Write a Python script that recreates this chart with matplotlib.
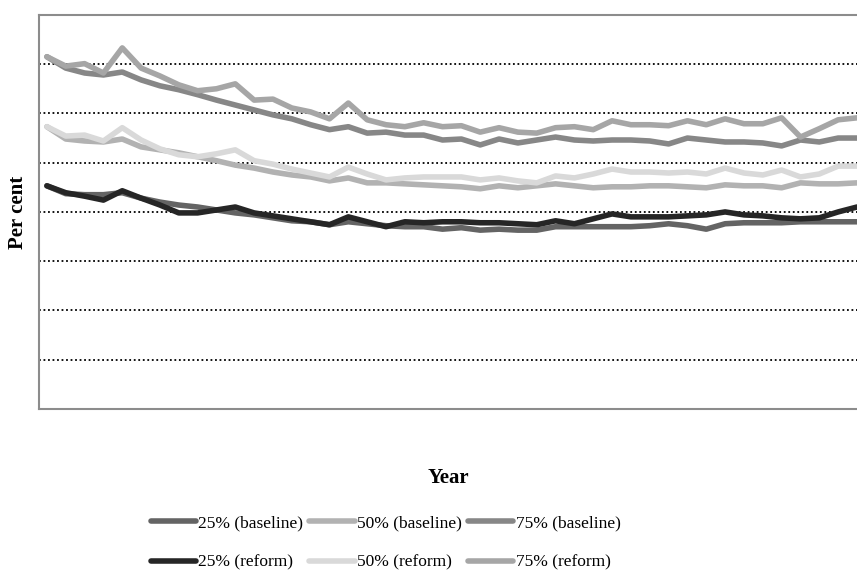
import matplotlib
matplotlib.use('Agg')
import matplotlib.pyplot as plt
import numpy as np

plt.rcParams['font.family'] = ['Liberation Serif', 'DejaVu Serif']

# x positions (years, unlabelled in the original)
years = list(range(44))

# series values (gridlines every 10)
p25_base = [45.3, 43.7, 43.5, 43.5, 43.9, 42.8, 42.0, 41.4, 41.0, 40.4,
            39.8, 39.4, 38.8, 38.2, 38.0, 37.4, 38.0, 37.6, 37.2, 37.0,
            37.0, 36.5, 36.8, 36.3, 36.5, 36.3, 36.3, 37.0, 37.0, 37.0,
            37.0, 37.0, 37.2, 37.6, 37.2, 36.5, 37.6, 37.8, 37.8, 37.8,
            38.0, 38.0, 38.0, 38.0]
p50_base = [57.3, 54.8, 54.4, 54.2, 54.8, 53.2, 52.6, 52.0, 51.2, 50.4,
            49.5, 48.9, 48.1, 47.5, 47.1, 46.3, 46.9, 45.9, 45.9, 45.7,
            45.5, 45.3, 45.1, 44.7, 45.3, 44.9, 45.3, 45.7, 45.3, 44.9,
            45.1, 45.1, 45.3, 45.3, 45.1, 44.9, 45.5, 45.3, 45.3, 44.9,
            45.9, 45.7, 45.7, 45.9]
p75_base = [71.5, 69.2, 68.2, 67.8, 68.4, 66.8, 65.6, 64.8, 63.8, 62.7,
            61.7, 60.7, 59.7, 58.9, 57.7, 56.7, 57.3, 56.0, 56.2, 55.6,
            55.6, 54.6, 54.8, 53.6, 54.8, 54.0, 54.6, 55.2, 54.6, 54.4,
            54.6, 54.6, 54.4, 53.8, 55.0, 54.6, 54.2, 54.2, 54.0, 53.4,
            54.6, 54.2, 55.0, 55.0]
p25_ref = [45.3, 43.9, 43.2, 42.4, 44.3, 42.8, 41.4, 39.8, 39.8, 40.4,
           41.0, 39.8, 39.2, 38.6, 38.0, 37.4, 39.0, 38.0, 37.0, 38.0,
           37.8, 38.0, 38.0, 37.8, 37.8, 37.6, 37.4, 38.2, 37.6, 38.6,
           39.6, 39.0, 39.0, 39.0, 39.2, 39.4, 40.0, 39.4, 39.2, 38.8,
           38.6, 38.8, 40.0, 41.0]
p50_ref = [57.3, 55.4, 55.6, 54.4, 57.1, 54.6, 52.8, 51.6, 51.2, 51.8,
           52.6, 50.4, 49.7, 48.7, 47.9, 47.1, 49.1, 47.7, 46.5, 46.9,
           47.1, 47.1, 47.1, 46.5, 46.9, 46.3, 45.9, 47.3, 46.9, 47.7,
           48.7, 48.1, 48.1, 47.9, 48.1, 47.7, 48.9, 47.9, 47.5, 48.5,
           47.1, 47.7, 49.3, 49.3]
p75_ref = [71.5, 69.6, 70.1, 68.2, 73.3, 69.2, 67.6, 65.8, 64.6, 65.0,
           66.0, 62.7, 62.9, 61.1, 60.3, 58.9, 62.1, 58.7, 57.7, 57.3,
           58.1, 57.3, 57.5, 56.2, 57.1, 56.2, 56.0, 57.1, 57.3, 56.7,
           58.5, 57.7, 57.7, 57.5, 58.5, 57.7, 58.9, 57.9, 57.9, 59.1,
           55.2, 56.9, 58.7, 59.1]

series = [
    ('25% (baseline)', p25_base, '#646464'),
    ('50% (baseline)', p50_base, '#b2b2b2'),
    ('75% (baseline)', p75_base, '#878787'),
    ('25% (reform)', p25_ref, '#262626'),
    ('50% (reform)', p50_ref, '#d9d9d9'),
    ('75% (reform)', p75_ref, '#a6a6a6'),
]

fig = plt.figure(figsize=(8.57, 5.72), dpi=100)
ax = fig.add_axes([0.0455, 0.285, 0.9545, 0.689])

lines = {}
for label, vals, col in series:
    ln, = ax.plot(years, vals, color=col, lw=4.0, label=label,
                  solid_joinstyle='round', solid_capstyle='round')
    lines[label] = ln

ax.set_xlim(-0.42, 43)
ax.set_ylim(0, 80)
ax.set_yticks(range(10, 80, 10))
ax.set_xticks([])
ax.tick_params(left=False, labelleft=False)
ax.grid(axis='y', color='black', linestyle=(0, (1, 1.5)), lw=1.3)
ax.set_axisbelow(True)

for side in ['left', 'top', 'bottom']:
    ax.spines[side].set_color('#8c8c8c')
    ax.spines[side].set_linewidth(1.5)
ax.spines['right'].set_visible(False)

fig.text(0.021, 0.629, 'Per cent', rotation=90, fontsize=15, fontweight='bold',
         ha='center', va='center')
fig.text(0.523, 0.165, 'Year', fontsize=15, fontweight='bold',
         ha='center', va='center')

order = ['25% (baseline)', '25% (reform)', '50% (baseline)', '50% (reform)',
         '75% (baseline)', '75% (reform)']
leg = fig.legend([lines[k] for k in order], order, ncol=3,
                 loc='center', bbox_to_anchor=(0.450, 0.051),
                 frameon=False, fontsize=12.5, handlelength=2.6,
                 handletextpad=0.15, columnspacing=0.35, labelspacing=1.35)
for h in leg.legend_handles:
    h.set_linewidth(4.0)

plt.savefig('out.png', dpi=100)
